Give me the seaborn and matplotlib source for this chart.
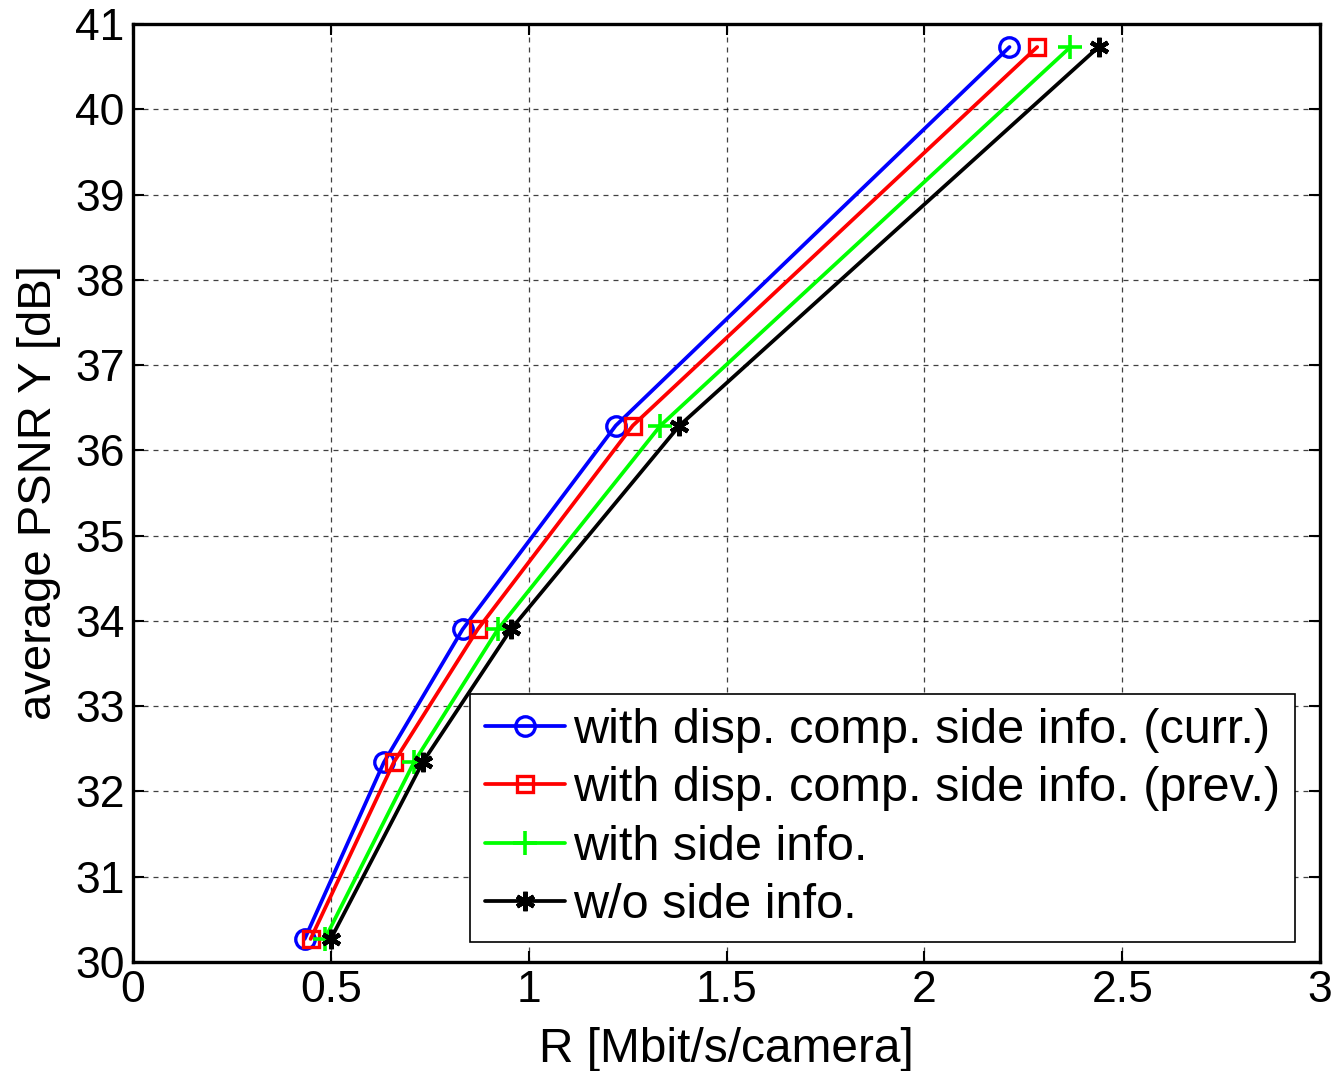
import numpy as np
import pandas as pd
import seaborn as sns
from matplotlib import pyplot as plt

# rate (Mbit/s/camera) vs. average PSNR Y (dB)
psnr = [30.27, 32.34, 33.90, 36.29, 40.73]
rate_curr = [0.434, 0.634, 0.833, 1.220, 2.215]
rate_prev = [0.449, 0.659, 0.871, 1.263, 2.285]
rate_side = [0.485, 0.710, 0.922, 1.333, 2.369]
rate_none = [0.500, 0.732, 0.955, 1.381, 2.440]

labels = ['with disp. comp. side info. (curr.)',
          'with disp. comp. side info. (prev.)',
          'with side info.',
          'w/o side info.']
colors = ['#0000ff', '#ff0000', '#00ff00', '#000000']
markers = ['o', 's', '+', (6, 2, 0)]
msizes = [14, 12, 17, 14]
mews = [2.4, 2.4, 2.6, 3.2]

frames = []
for lab, r in zip(labels, [rate_curr, rate_prev, rate_side, rate_none]):
    frames.append(pd.DataFrame({'R': r, 'PSNR': psnr, 'scheme': lab}))
data = pd.concat(frames, ignore_index=True)

sns.set_theme(style='white')
plt.rcParams['font.family'] = ['Liberation Sans', 'DejaVu Sans']
plt.rcParams['text.color'] = 'black'
plt.rcParams['axes.labelcolor'] = 'black'

fig = plt.figure(figsize=(13.32, 10.71), dpi=100)
ax = fig.add_axes([0.0998, 0.1018, 0.8913, 0.8758])

for lab, c, m, ms, mw in zip(labels, colors, markers, msizes, mews):
    sub = data[data['scheme'] == lab]
    sns.lineplot(data=sub, x='R', y='PSNR', ax=ax, sort=False, color=c,
                 marker=m, markersize=ms, markerfacecolor='none',
                 markeredgecolor=c, markeredgewidth=mw, linewidth=2.7,
                 label=lab, estimator=None)

ax.set_xlim(0, 3)
ax.set_ylim(30, 41)
ax.set_xticks(np.arange(0, 3.01, 0.5))
ax.set_xticklabels(['0', '0.5', '1', '1.5', '2', '2.5', '3'])
ax.set_yticks(np.arange(30, 41.1, 1))
ax.grid(True, color='black', linestyle=(0, (4, 4)), linewidth=0.9, alpha=0.75)
ax.tick_params(direction='in', length=8, width=1.5, labelsize=32,
               top=True, right=True, bottom=True, left=True, pad=6,
               colors='black')
for s in ax.spines.values():
    s.set_color('black')
    s.set_linewidth(2.4)
ax.set_xlabel('R [Mbit/s/camera]', fontsize=34.5, labelpad=11)
ax.set_ylabel('average PSNR Y [dB]', fontsize=34, labelpad=10)

leg = ax.legend(loc='lower right', bbox_to_anchor=(0.979, 0.021), fontsize=35,
                handlelength=1.65, handletextpad=0.17, borderpad=0.3,
                labelspacing=0.27, frameon=True, fancybox=False,
                borderaxespad=0)
leg.get_frame().set_edgecolor('black')
leg.get_frame().set_linewidth(1.2)
leg.get_frame().set_alpha(1)

fig.savefig('out.png', dpi=100)
